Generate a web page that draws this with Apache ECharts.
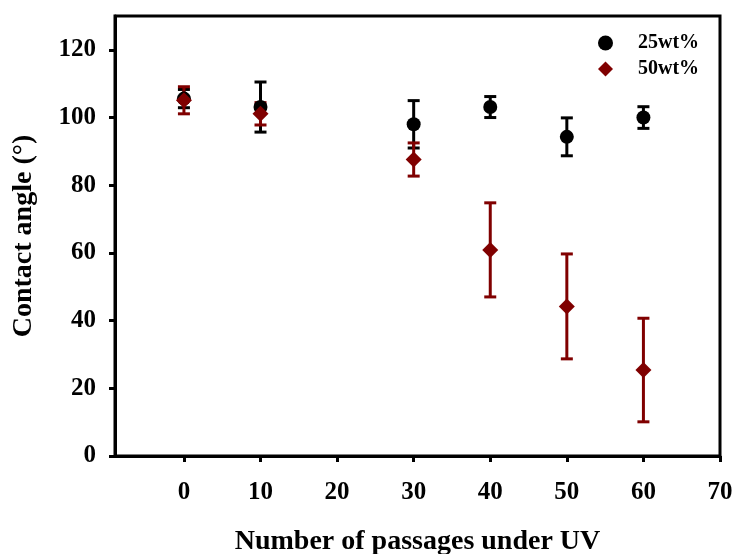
<!DOCTYPE html>
<html>
<head>
<meta charset="utf-8">
<script src="https://cdn.jsdelivr.net/npm/echarts@6/dist/echarts.min.js"></script>
<style>
  html, body { margin: 0; padding: 0; background: #fff; }
  #chart { width: 737px; height: 554px; }
</style>
</head>
<body>
<div id="chart"></div>
<script>
// passages under UV
const passages = [0, 10, 30, 40, 50, 60]
// contact angle, 25wt% and 50wt%, with error
const angle25 = [105.6, 103.1, 98.0, 103.1, 94.3, 100.0]
const err25 = [2.7, 7.4, 7.0, 3.1, 5.6, 3.2]
const angle50 = [105.1, 101.1, 87.6, 60.9, 44.2, 25.4]
const err50 = [4.0, 3.3, 4.9, 13.9, 15.5, 15.3]
const xTicks = [0, 10, 20, 30, 40, 50, 60, 70]
const yTicks = [0, 20, 40, 60, 80, 100, 120]

const font = 'Liberation Serif'
const black = '#000000'
const red = '#800000'

function points (ys) {
  return passages.map((x, i) => [x, ys[i]])
}
function errPoints (ys, es) {
  return passages.map((x, i) => [x, ys[i], es[i]])
}

function errorBar (color) {
  return function (params, api) {
    const x = api.value(0)
    const y = api.value(1)
    const e = api.value(2)
    const hi = api.coord([x, y + e])
    const lo = api.coord([x, y - e])
    const w = 6
    const style = { stroke: color, lineWidth: 3 }
    return {
      type: 'group',
      children: [
        { type: 'line', shape: { x1: hi[0], y1: hi[1], x2: lo[0], y2: lo[1] }, style: style },
        { type: 'line', shape: { x1: hi[0] - w, y1: hi[1], x2: hi[0] + w, y2: hi[1] }, style: style },
        { type: 'line', shape: { x1: lo[0] - w, y1: lo[1], x2: lo[0] + w, y2: lo[1] }, style: style }
      ]
    }
  }
}

const chart = echarts.init(document.getElementById('chart'))
chart.setOption({
  animation: false,
  backgroundColor: '#fff',
  textStyle: { fontFamily: font },
  grid: {
    left: 115, right: 17, top: 16, bottom: 98,
    outerBoundsMode: 'none',
    containLabel: false,
    show: true, borderColor: black, borderWidth: 3, backgroundColor: 'transparent'
  },
  legend: {
    orient: 'vertical',
    left: 593,
    top: 28,
    itemWidth: 15,
    itemHeight: 15,
    itemGap: 6,
    textStyle: { fontFamily: font, fontWeight: 'bold', fontSize: 20, color: black, padding: [0, 0, 0, 20] },
    data: [
      { name: '25wt%', icon: 'circle' },
      { name: '50wt%', icon: 'diamond' }
    ]
  },
  xAxis: {
    type: 'value',
    min: -9,
    max: 70,
    name: 'Number of passages under UV',
    nameLocation: 'middle',
    nameGap: 72,
    nameTextStyle: { fontFamily: font, fontWeight: 'bold', fontSize: 28, color: black },
    axisLine: { show: true, onZero: false, lineStyle: { color: black, width: 3 } },
    axisTick: { show: true, length: 6, customValues: xTicks, lineStyle: { color: black, width: 3 } },
    axisLabel: { customValues: xTicks, margin: 24, fontFamily: font, fontWeight: 'bold', fontSize: 25, color: black },
    splitLine: { show: false }
  },
  yAxis: {
    type: 'value',
    min: 0,
    max: 130,
    name: 'Contact angle (°)',
    nameLocation: 'middle',
    nameRotate: 90,
    nameGap: 77,
    nameTextStyle: { fontFamily: font, fontWeight: 'bold', fontSize: 28, color: black },
    axisLine: { show: true, onZero: false, lineStyle: { color: black, width: 3 } },
    axisTick: { show: true, length: 6, customValues: yTicks, lineStyle: { color: black, width: 3 } },
    axisLabel: { customValues: yTicks, margin: 19, fontFamily: font, fontWeight: 'bold', fontSize: 25, color: black },
    splitLine: { show: false }
  },
  series: [
    {
      type: 'custom',
      name: 'err25',
      renderItem: errorBar(black),
      data: errPoints(angle25, err25),
      encode: { x: 0, y: 1 },
      silent: true
    },
    {
      type: 'scatter',
      name: '25wt%',
      symbol: 'circle',
      symbolSize: 14,
      itemStyle: { color: black, opacity: 1 },
      data: points(angle25)
    },
    {
      type: 'custom',
      name: 'err50',
      renderItem: errorBar(red),
      data: errPoints(angle50, err50),
      encode: { x: 0, y: 1 },
      silent: true
    },
    {
      type: 'scatter',
      name: '50wt%',
      symbol: 'diamond',
      symbolSize: 16,
      itemStyle: { color: red, opacity: 1 },
      data: points(angle50)
    }
  ]
})
</script>
</body>
</html>
